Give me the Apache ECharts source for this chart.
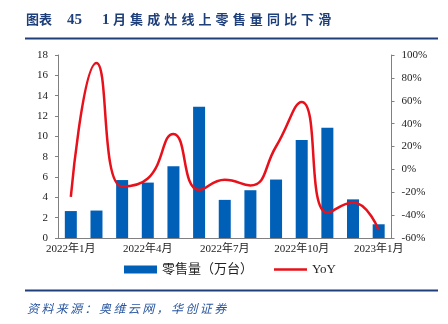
<!DOCTYPE html>
<html>
<head>
<meta charset="utf-8">
<script src="https://cdn.jsdelivr.net/npm/echarts@6/dist/echarts.min.js"></script>
<style>
  html, body { margin: 0; padding: 0; background: #fff; }
  #chart { width: 448px; height: 324px; }
</style>
</head>
<body>
<div id="chart"></div>
<script>
// Monthly online retail volume of integrated stoves, Jan 2022 – Jan 2023
const months = ['2022年1月', '2022年2月', '2022年3月', '2022年4月', '2022年5月', '2022年6月',
  '2022年7月', '2022年8月', '2022年9月', '2022年10月', '2022年11月', '2022年12月', '2023年1月'];
const salesWanTai = [2.65, 2.7, 5.7, 5.45, 7.05, 12.9, 3.75, 4.7, 5.75, 9.65, 10.85, 3.8, 1.35];
const yoyPct = [-24, 93, -15, -8, 31, -18, -9, -14, 20, 59, -38, -29, -53];

const titleBody = '1月集成灶线上零售量同比下滑';
const sourceText = '资料来源：奥维云网，华创证券';
const navy = '#1f3f7a';
const serif = '"Liberation Serif", "Noto Sans CJK SC", serif';

// Title and footer are laid out one glyph at a time to get the wide spacing
const graphics = [];
graphics.push({ type: 'text', left: 26, top: 13, style: { text: '图表', font: 'bold 13px "Noto Sans CJK SC"', fill: navy } });
graphics.push({ type: 'text', left: 67, top: 13, style: { text: '45', font: 'bold 15px ' + serif, fill: navy } });
graphics.push({ type: 'text', left: 102, top: 13, style: { text: '1', font: 'bold 15px ' + serif, fill: navy } });
Array.from(titleBody.slice(1)).forEach((ch, i) => {
  graphics.push({ type: 'text', left: 113 + i * 17.1, top: 13,
    style: { text: ch, font: 'bold 13px "Noto Sans CJK SC"', fill: navy } });
});
graphics.push({ type: 'rect', shape: { x: 25, y: 37.5, width: 413, height: 2 }, style: { fill: navy } });
graphics.push({ type: 'rect', shape: { x: 25, y: 289.5, width: 413, height: 2 }, style: { fill: navy } });
Array.from(sourceText).forEach((ch, i) => {
  graphics.push({ type: 'text', left: 27 + i * 14.4, top: 302,
    style: { text: ch, font: 'italic 12px "Noto Sans CJK SC"', fill: '#2a56a0' } });
});

const chart = echarts.init(document.getElementById('chart'));
chart.setOption({
  animation: false,
  graphic: graphics,
  grid: { left: 58, right: 56.5, top: 55, bottom: 86 },
  legend: {
    left: 124, top: 263, padding: 0, itemGap: 21, itemWidth: 33, itemHeight: 8,
    textStyle: { fontSize: 13, color: '#222', fontFamily: serif },
    data: [
      { name: '零售量（万台）', icon: 'rect' },
      { name: 'YoY', icon: 'path://M0,0 H66 V5 H0 Z' }
    ]
  },
  xAxis: {
    type: 'category',
    data: months,
    boundaryGap: true,
    axisLine: { lineStyle: { color: '#808080', width: 1 } },
    axisTick: { interval: 2, length: 3, lineStyle: { color: '#808080' } },
    axisLabel: { interval: 2, fontSize: 11, color: '#222', fontFamily: serif, margin: 6 }
  },
  yAxis: [
    {
      type: 'value', min: 0, max: 18, interval: 2,
      axisLine: { show: true, lineStyle: { color: '#808080' } },
      axisTick: { show: true, length: 3, lineStyle: { color: '#808080' } },
      splitLine: { show: false },
      axisLabel: { fontSize: 11, color: '#222', fontFamily: serif, margin: 10 }
    },
    {
      type: 'value', min: -60, max: 100, interval: 20,
      axisLine: { show: true, lineStyle: { color: '#808080' } },
      axisTick: { show: true, length: 3, lineStyle: { color: '#808080' } },
      splitLine: { show: false },
      axisLabel: { fontSize: 11, color: '#222', fontFamily: serif, margin: 10, formatter: '{value}%' }
    }
  ],
  series: [
    {
      name: '零售量（万台）', type: 'bar', yAxisIndex: 0, data: salesWanTai,
      barWidth: 12,
      itemStyle: { color: '#0060b8' }
    },
    {
      name: 'YoY', type: 'line', yAxisIndex: 1, data: yoyPct,
      smooth: 0.5, symbol: 'none',
      lineStyle: { color: '#e8101a', width: 2.5 },
      itemStyle: { color: '#e8101a' }
    }
  ]
});
</script>
</body>
</html>
